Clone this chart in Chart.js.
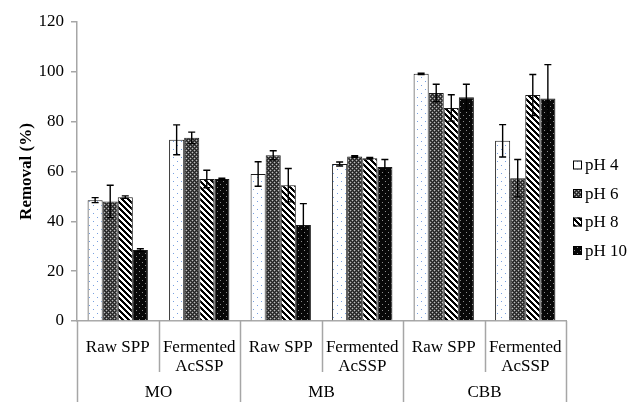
<!DOCTYPE html>
<html>
<head>
<meta charset="utf-8">
<script src="https://cdn.jsdelivr.net/npm/chart.js@4"></script>
<style>
  html, body { margin: 0; padding: 0; background: #fff; }
  #wrap { width: 632px; height: 402px; }
</style>
</head>
<body>
<div id="wrap"><canvas id="c" width="632" height="402"></canvas></div>
<script>
// values
const groups = ["MO", "MB", "CBB"];
const categories = ["Raw SPP", ["Fermented", "AcSSP"], "Raw SPP", ["Fermented", "AcSSP"], "Raw SPP", ["Fermented", "AcSSP"]];
const seriesNames = ["pH 4", "pH 6", "pH 8", "pH 10"];
const ph4 = [48.5, 72.7, 59.0, 63.0, 99.2, 72.3];
const ph6 = [48.0, 73.5, 66.5, 66.0, 91.5, 57.3];
const ph8 = [49.7, 57.0, 54.5, 65.3, 85.5, 90.7];
const ph10 = [28.5, 57.0, 38.5, 61.8, 89.8, 89.3];
const ph4Err = [1.0, 6.0, 4.9, 0.8, 0.3, 6.5];
const ph6Err = [6.5, 2.3, 1.8, 0.3, 3.5, 7.5];
const ph8Err = [0.5, 3.5, 6.7, 0.3, 5.3, 8.2];
const ph10Err = [0.5, 0.3, 8.6, 3.0, 5.2, 13.6];
const yTicks = [0, 20, 40, 60, 80, 100, 120];

const FONT = "'Liberation Serif', 'DejaVu Serif', serif";
const AXIS_GRAY = "#a6a6a6";

const canvas = document.getElementById("c");
const mainCtx = canvas.getContext("2d");

// small tiles turned into fill patterns
function makePattern(size, fn) {
    const t = document.createElement("canvas");
    t.width = size; t.height = size;
    const g = t.getContext("2d");
    const img = g.createImageData(size, size);
    for (let y = 0; y < size; y++) {
        for (let x = 0; x < size; x++) {
            const c = fn(x, y);
            const i = (y * size + x) * 4;
            img.data[i] = c[0]; img.data[i + 1] = c[1]; img.data[i + 2] = c[2]; img.data[i + 3] = 255;
        }
    }
    g.putImageData(img, 0, 0);
    return mainCtx.createPattern(t, "repeat");
}

const dotsPattern = makePattern(8, (x, y) =>
    (x == 1 && y == 1) || (x == 5 && y == 5) ? [120, 160, 225] : [255, 255, 255]);
const grayPattern = makePattern(4, (x, y) => {
    if ((x == 0 && y == 0) || (x == 2 && y == 2)) return [190, 190, 190];
    if ((x + y) % 2 == 1) return [80, 80, 80];
    return [35, 35, 35];
});
const stripePattern = makePattern(6, (x, y) =>
    (((x - y) % 6) + 6) % 6 < 3 ? [0, 0, 0] : [255, 255, 255]);
const blackPattern = makePattern(6, (x, y) =>
    (x == 1 && y == 1) || (x == 4 && y == 4) ? [140, 140, 140] : [8, 8, 8]);

const fills = [dotsPattern, grayPattern, stripePattern, blackPattern];
const values = [ph4, ph6, ph8, ph10];
const errors = [ph4Err, ph6Err, ph8Err, ph10Err];

// error bars, category separators, group labels and legend
const extras = {
    id: "extras",
    afterDatasetsDraw(chart) {
        const ctx = chart.ctx;
        const y = chart.scales.y;
        ctx.save();
        ctx.strokeStyle = "#000";
        ctx.lineWidth = 1.4;
        chart.data.datasets.forEach((ds, di) => {
            const meta = chart.getDatasetMeta(di);
            meta.data.forEach((bar, i) => {
                const v = ds.data[i], e = errors[di][i];
                const top = y.getPixelForValue(v + e);
                const bot = y.getPixelForValue(v - e);
                ctx.beginPath();
                ctx.moveTo(bar.x, top); ctx.lineTo(bar.x, bot);
                ctx.moveTo(bar.x - 3.5, top); ctx.lineTo(bar.x + 3.5, top);
                ctx.moveTo(bar.x - 3.5, bot); ctx.lineTo(bar.x + 3.5, bot);
                ctx.stroke();
            });
        });
        ctx.restore();
    },
    afterDraw(chart) {
        const ctx = chart.ctx;
        const x = chart.scales.x;
        const half = (x.getPixelForValue(1) - x.getPixelForValue(0)) / 2;
        const axisY = chart.chartArea.bottom;
        ctx.save();
        ctx.strokeStyle = AXIS_GRAY;
        ctx.lineWidth = 1.5;
        for (let i = 0; i <= categories.length; i++) {
            const px = Math.round(x.getPixelForValue(i) - half) + 0.5;
            ctx.beginPath();
            ctx.moveTo(px, axisY);
            ctx.lineTo(px, i % 2 == 0 ? chart.height : axisY + 51);
            ctx.stroke();
        }
        ctx.fillStyle = "#000";
        ctx.font = "17px " + FONT;
        ctx.textAlign = "center";
        ctx.textBaseline = "middle";
        groups.forEach((g, gi) => {
            const cx = (x.getPixelForValue(gi * 2) + x.getPixelForValue(gi * 2 + 1)) / 2;
            ctx.fillText(g, cx, axisY + 72);
        });

        // legend
        ctx.textAlign = "left";
        const lx = chart.chartArea.right + 7;
        seriesNames.forEach((name, i) => {
            const cy = 165 + i * 28.5;
            ctx.fillStyle = fills[i];
            ctx.fillRect(lx, cy - 4.5, 9, 9);
            ctx.strokeStyle = "#000";
            ctx.lineWidth = 1;
            ctx.strokeRect(lx + 0.5, cy - 4, 8, 8);
            ctx.fillStyle = "#000";
            ctx.fillText(name, lx + 12, cy + 1);
        });
        ctx.restore();
    }
};

new Chart(canvas, {
    type: "bar",
    data: {
        labels: categories,
        datasets: seriesNames.map((name, i) => ({
            label: name,
            data: values[i],
            backgroundColor: fills[i],
            borderColor: "#1a1a1a",
            borderWidth: 1,
            borderSkipped: "bottom",
            categoryPercentage: 0.74,
            barPercentage: 1.0
        }))
    },
    options: {
        responsive: false,
        animation: false,
        devicePixelRatio: 1,
        layout: { padding: { top: 22, right: 66, left: 0, bottom: 0 } },
        plugins: {
            legend: { display: false },
            tooltip: { enabled: false }
        },
        scales: {
            x: {
                grid: { display: false },
                border: { display: true, color: AXIS_GRAY, width: 1.5 },
                ticks: {
                    color: "#000",
                    font: { family: FONT, size: 17, lineHeight: 1.1 },
                    padding: 9,
                    maxRotation: 0,
                    autoSkip: false
                },
                afterFit(scale) { scale.height = 81; }
            },
            y: {
                min: 0,
                max: 120,
                afterBuildTicks(scale) { scale.ticks = yTicks.map(v => ({ value: v })); },
                grid: {
                    display: true,
                    drawOnChartArea: false,
                    drawTicks: true,
                    tickLength: 6,
                    color: AXIS_GRAY,
                    lineWidth: 1.5
                },
                border: { display: true, color: AXIS_GRAY, width: 1.5 },
                ticks: {
                    color: "#000",
                    font: { family: FONT, size: 17 },
                    padding: 7
                },
                title: {
                    display: true,
                    text: "Removal (%)",
                    color: "#000",
                    font: { family: FONT, size: 17, weight: "bold" },
                    padding: { top: 16, bottom: 4 }
                },
                afterFit(scale) { scale.width = 77; }
            }
        }
    },
    plugins: [extras]
});
</script>
</body>
</html>
